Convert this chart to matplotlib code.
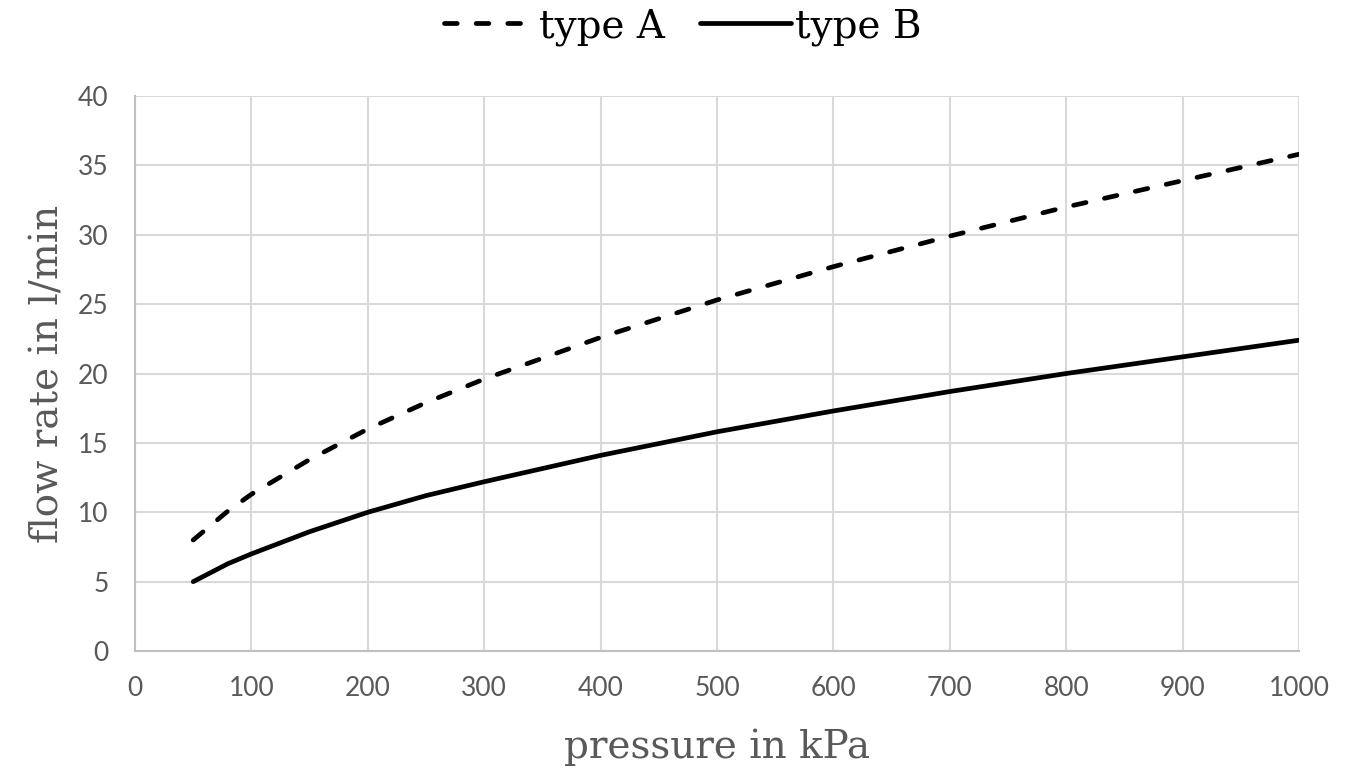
import matplotlib
matplotlib.use("Agg")
import matplotlib.pyplot as plt
from matplotlib.ticker import MultipleLocator

# values
pressure = [50, 80, 100, 150, 200, 250, 300, 400, 500, 600, 700, 800, 900, 1000]
flow_a = [8.0, 10.1, 11.3, 13.8, 16.0, 17.9, 19.6, 22.6, 25.3, 27.7, 29.9, 32.0, 33.9, 35.8]
flow_b = [5.0, 6.3, 7.0, 8.6, 10.0, 11.2, 12.2, 14.1, 15.8, 17.3, 18.7, 20.0, 21.2, 22.4]

GRID = "#d9d9d9"
TICK = "#595959"
LABEL = "#595959"

fig = plt.figure(figsize=(13.65, 7.71), dpi=100)
ax = fig.add_axes([0.0989, 0.1556, 0.8527, 0.7199])

ax.plot(pressure, flow_a, color="black", lw=3.4, ls=(0, (2.7, 4.0)),
        dash_capstyle="round", label="type A")
ax.plot(pressure, flow_b, color="black", lw=3.4, solid_capstyle="round",
        label="type B")

ax.set_xlim(0, 1000)
ax.set_ylim(0, 40)
ax.xaxis.set_major_locator(MultipleLocator(100))
ax.yaxis.set_major_locator(MultipleLocator(5))
ax.grid(True, color=GRID, lw=1.5)
ax.set_axisbelow(True)
for side in ["top", "right"]:
    ax.spines[side].set_visible(False)
for side in ["left", "bottom"]:
    ax.spines[side].set_color("#bfbfbf")
    ax.spines[side].set_linewidth(1.5)
ax.tick_params(length=0, labelsize=19, labelcolor=TICK)
ax.tick_params(axis="x", pad=18)
ax.tick_params(axis="y", pad=19)
for lab in ax.get_xticklabels() + ax.get_yticklabels():
    lab.set_fontfamily("Lato")

ax.set_xlabel("pressure in kPa", family="DejaVu Serif", fontsize=28,
              color=LABEL, labelpad=20)
ax.set_ylabel("flow rate in l/min", family="DejaVu Serif", fontsize=28,
              color=LABEL, labelpad=8)

# legend sits above the plot, centred, no frame
leg = fig.legend(loc="upper center", bbox_to_anchor=(0.5, 1.035), ncol=2,
                 frameon=False, prop={"family": "DejaVu Serif", "size": 28},
                 handlelength=2.35, handletextpad=0.1, columnspacing=0.9)

fig.savefig("out.png", dpi=100)
